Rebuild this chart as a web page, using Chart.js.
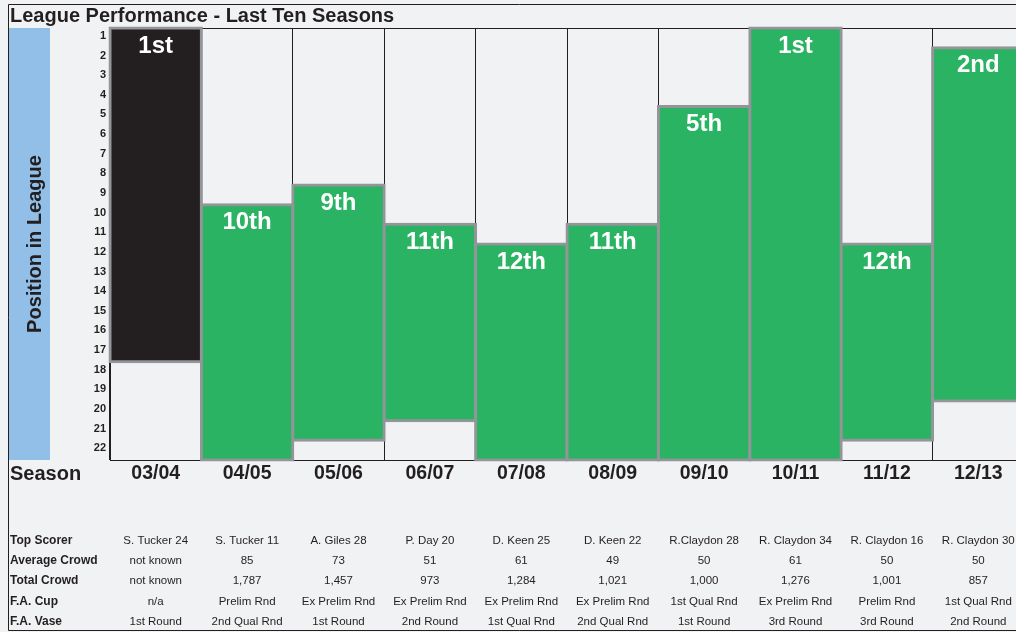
<!DOCTYPE html>
<html>
<head>
<meta charset="utf-8">
<title>League Performance - Last Ten Seasons</title>
<script src="https://cdn.jsdelivr.net/npm/chart.js@4.4.1/dist/chart.umd.min.js"></script>
<style>
    html, body { margin: 0; padding: 0; background: #f1f2f4; overflow: hidden; }
    #wrap { position: relative; width: 1030px; height: 632px; }
</style>
</head>
<body>
<div id="wrap"><canvas id="leagueChart"></canvas></div>
<script>
    "use strict";

    // seasons along the bottom
    var seasons = ["03/04", "04/05", "05/06", "06/07", "07/08", "08/09", "09/10", "10/11", "11/12", "12/13"];
    // final league position (top of each bar)
    var positions = [1, 10, 9, 11, 12, 11, 5, 1, 12, 2];
    // where each bar stops at the bottom (league size)
    var barEnds = [17, 22, 21, 20, 22, 22, 22, 22, 21, 19];
    var yTickLabels = [1, 2, 3, 4, 5, 6, 7, 8, 9, 10, 11, 12, 13, 14, 15, 16, 17, 18, 19, 20, 21, 22];

    // table under the chart
    var topScorers = ["S. Tucker 24", "S. Tucker 11", "A. Giles 28", "P. Day 20", "D. Keen 25", "D. Keen 22", "R.Claydon 28", "R. Claydon 34", "R. Claydon 16", "R. Claydon 30"];
    var avgCrowd = ["not known", "85", "73", "51", "61", "49", "50", "61", "50", "50"];
    var totalCrowd = ["not known", "1,787", "1,457", "973", "1,284", "1,021", "1,000", "1,276", "1,001", "857"];
    var faCup = ["n/a", "Prelim Rnd", "Ex Prelim Rnd", "Ex Prelim Rnd", "Ex Prelim Rnd", "Ex Prelim Rnd", "1st Qual Rnd", "Ex Prelim Rnd", "Prelim Rnd", "1st Qual Rnd"];
    var faVase = ["1st Round", "2nd Qual Rnd", "1st Round", "2nd Round", "1st Qual Rnd", "2nd Qual Rnd", "1st Round", "3rd Round", "3rd Round", "2nd Round"];

    var FONT = "'Liberation Sans', Arial, Helvetica, sans-serif";
    var INK = "#231f20";

    function ordinal(n) {
        var s = n % 100;
        if (s >= 11 && s <= 13) return n + "th";
        if (n % 10 === 1) return n + "st";
        if (n % 10 === 2) return n + "nd";
        if (n % 10 === 3) return n + "rd";
        return n + "th";
    }

    var tableRows = [
        { label: "Top Scorer", values: topScorers, y: 541 },
        { label: "Average Crowd", values: avgCrowd, y: 561 },
        { label: "Total Crowd", values: totalCrowd, y: 581 },
        { label: "F.A. Cup", values: faCup, y: 602 },
        { label: "F.A. Vase", values: faVase, y: 622 }
    ];

    var decorPlugin = {
        id: "decor",
        beforeDraw: function (chart) {
            var ctx = chart.ctx, area = chart.chartArea;
            ctx.save();
            ctx.fillStyle = "#f1f2f4";
            ctx.fillRect(0, 0, chart.width, chart.height);
            // blue band behind the axis title
            ctx.fillStyle = "#92bfe7";
            ctx.fillRect(8, area.top, 42, area.bottom - area.top);
            ctx.restore();
        },
        beforeDatasetsDraw: function (chart) {
            var ctx = chart.ctx, area = chart.chartArea;
            ctx.save();
            ctx.strokeStyle = INK;
            ctx.lineWidth = 1;
            ctx.beginPath();
            ctx.moveTo(area.left, area.top + 0.5);
            ctx.lineTo(chart.width, area.top + 0.5);
            ctx.stroke();
            ctx.restore();
        },
        afterDatasetsDraw: function (chart) {
            var ctx = chart.ctx;
            var meta = chart.getDatasetMeta(0);
            ctx.save();
            ctx.fillStyle = "#ffffff";
            ctx.font = "bold 24px " + FONT;
            ctx.textAlign = "center";
            ctx.textBaseline = "middle";
            meta.data.forEach(function (bar, i) {
                var p = bar.getProps(["x", "y", "base"], true);
                var top = Math.min(p.y, p.base);
                ctx.fillText(ordinal(positions[i]), p.x, top + 18);
            });
            ctx.restore();
        },
        afterDraw: function (chart) {
            var ctx = chart.ctx, x = chart.scales.x;
            ctx.save();
            ctx.fillStyle = INK;
            ctx.textBaseline = "middle";
            ctx.textAlign = "left";
            ctx.font = "bold 20px " + FONT;
            ctx.fillText("Season", 10, 474);

            tableRows.forEach(function (row) {
                ctx.textAlign = "left";
                ctx.font = "bold 12px " + FONT;
                ctx.fillText(row.label, 10, row.y);
                ctx.textAlign = "center";
                ctx.font = "11.5px " + FONT;
                row.values.forEach(function (v, i) {
                    ctx.fillText(v, x.getPixelForValue(i), row.y);
                });
            });

            // outer frame
            ctx.strokeStyle = INK;
            ctx.lineWidth = 1;
            ctx.beginPath();
            ctx.moveTo(chart.width, 4.5);
            ctx.lineTo(8.5, 4.5);
            ctx.lineTo(8.5, 630.5);
            ctx.lineTo(chart.width, 630.5);
            ctx.stroke();
            ctx.restore();
        }
    };

    var ctx = document.getElementById("leagueChart");
    var leagueChart = new Chart(ctx, {
        type: "bar",
        data: {
            labels: seasons,
            datasets: [{
                label: "Position in League",
                data: positions.map(function (p, i) { return [p - 1, barEnds[i]]; }),
                backgroundColor: function (c) { return c.dataIndex === 0 ? "#231f20" : "#29b363"; },
                borderColor: "#939598",
                borderWidth: 3,
                borderSkipped: false,
                inflateAmount: 1.5,
                barPercentage: 1,
                categoryPercentage: 1,
                clip: false
            }]
        },
        options: {
            responsive: true,
            maintainAspectRatio: false,
            animation: false,
            layout: { padding: { left: 10, right: 6, top: 0, bottom: 0 } },
            plugins: {
                legend: { display: false },
                tooltip: { enabled: false },
                title: {
                    display: true,
                    text: "League Performance - Last Ten Seasons",
                    align: "start",
                    color: INK,
                    font: { family: FONT, size: 20, weight: "bold" },
                    padding: { top: 4, bottom: 0 }
                }
            },
            scales: {
                x: {
                    afterFit: function (scale) { scale.height = 172; },
                    grid: { color: INK, lineWidth: 1, offset: true, drawTicks: false },
                    border: { display: true, color: INK, width: 1 },
                    ticks: {
                        color: INK,
                        padding: 2,
                        font: { family: FONT, size: 19.5, weight: "bold" }
                    }
                },
                y: {
                    min: 0,
                    max: 22,
                    reverse: true,
                    afterFit: function (scale) { scale.width = 100; },
                    afterBuildTicks: function (scale) {
                        scale.ticks = yTickLabels.map(function (n) { return { value: n - 0.6 }; });
                    },
                    grid: { display: false, drawTicks: false },
                    border: { display: true, color: INK, width: 1 },
                    ticks: {
                        autoSkip: false,
                        color: INK,
                        padding: 4,
                        font: { family: FONT, size: 11, weight: "bold" },
                        callback: function (value, index) { return yTickLabels[index]; }
                    },
                    title: {
                        display: true,
                        text: "Position in League",
                        color: INK,
                        font: { family: FONT, size: 20, weight: "bold" },
                        padding: { top: 13, bottom: 0 }
                    }
                }
            }
        },
        plugins: [decorPlugin]
    });
</script>
</body>
</html>
